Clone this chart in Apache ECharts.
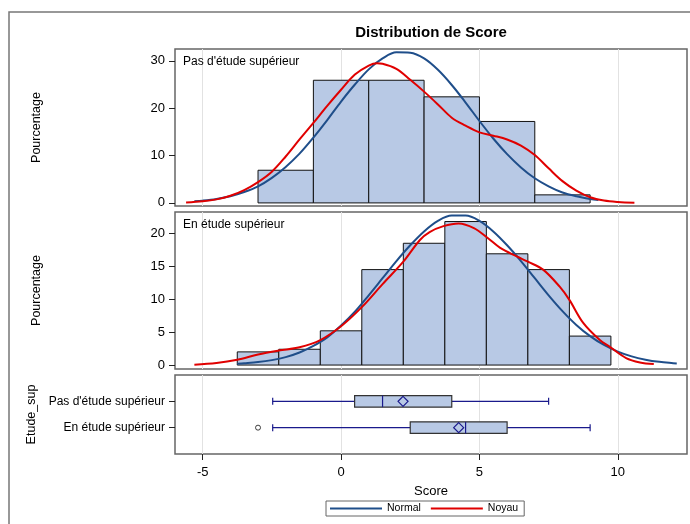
<!DOCTYPE html>
<html>
<head>
<meta charset="utf-8">
<script src="https://cdn.jsdelivr.net/npm/echarts@6/dist/echarts.min.js"></script>
<style>html,body{margin:0;padding:0;background:#fff}#c{width:690px;height:524px}</style>
</head>
<body>
<div id="c"></div>
<script>
// ---- data ----
const groups = ["Pas d'étude supérieur", "En étude supérieur"];
const xTicks = [-5, 0, 5, 10];
const pasTicks = [0, 10, 20, 30];
const enTicks = [0, 5, 10, 15, 20];

const pasBinCenters = [-2, 0, 2, 4, 6, 8];
const pasBinWidth = 2;
const pasPct = [6.9, 25.9, 25.9, 22.4, 17.2, 1.7];

const enBinCenters = [-3, -1.5, 0, 1.5, 3, 4.5, 6, 7.5, 9];
const enBinWidth = 1.5;
const enPct = [2.0, 2.4, 5.2, 14.5, 18.5, 21.8, 16.9, 14.5, 4.4];

const pasNormalX = [-5.3, -5, -4.5, -4, -3.5, -3, -2.5, -2, -1.5, -1, -0.5, 0, 0.5, 1, 1.5, 2, 2.5, 3, 3.5, 4, 4.5, 5, 5.5, 6, 6.5, 7, 7.5, 8, 8.5, 9, 9.3];
const pasNormalY = [0.34, 0.48, 0.85, 1.42, 2.3, 3.5, 5.3, 7.6, 10.4, 13.8, 17.5, 21.4, 25.0, 28.2, 30.5, 31.8, 31.7, 30.5, 28.1, 24.9, 21.2, 17.3, 13.6, 10.3, 7.5, 5.2, 3.5, 2.2, 1.4, 0.83, 0.59];

const pasKernelX = [-5.6, -5, -4.5, -4, -3.5, -3, -2.5, -2, -1.5, -1, -0.5, 0, 0.5, 1, 1.3, 1.5, 2, 2.5, 3, 3.5, 4, 4.5, 5, 5.5, 6, 6.5, 7, 7.5, 8, 8.5, 9, 9.5, 10, 10.6];
const pasKernelY = [0.1, 0.35, 0.75, 1.5, 2.7, 4.4, 6.6, 9.8, 13.4, 16.9, 20.5, 23.9, 27.1, 29.0, 29.5, 29.4, 28.3, 26.0, 23.5, 20.8, 18.0, 16.3, 14.9, 14.2, 13.4, 12.1, 10.1, 7.3, 4.6, 2.6, 1.2, 0.5, 0.2, 0.05];

const enNormalX = [-3.75, -3.5, -3, -2.5, -2, -1.5, -1, -0.5, 0, 0.5, 1, 1.5, 2, 2.5, 3, 3.5, 4, 4.5, 5, 5.5, 6, 6.5, 7, 7.5, 8, 8.5, 9, 9.5, 10, 10.5, 11, 11.5, 12, 12.13];
const enNormalY = [0.2, 0.27, 0.45, 0.75, 1.2, 1.9, 2.9, 4.2, 6.0, 8.1, 10.6, 13.2, 15.8, 18.2, 20.3, 21.9, 22.7, 22.7, 21.9, 20.3, 18.2, 15.8, 13.2, 10.6, 8.2, 6.1, 4.4, 3.05, 2.05, 1.32, 0.82, 0.49, 0.29, 0.25];

const enKernelX = [-5.3, -4.5, -3.75, -3, -2.25, -1.5, -0.75, 0, 0.75, 1.5, 2.25, 2.85, 3.2, 3.7, 4.25, 4.8, 5.3, 5.75, 6.35, 6.75, 7.3, 7.9, 8.25, 8.75, 9.35, 9.7, 10.3, 10.8, 11.3];
const enKernelY = [0.05, 0.3, 0.8, 1.6, 2.2, 2.7, 3.8, 5.9, 8.8, 12.3, 15.7, 19.0, 20.2, 21.1, 21.5, 20.8, 19.3, 17.8, 16.5, 15.7, 14.5, 11.9, 9.9, 6.4, 3.8, 2.8, 1.06, 0.4, 0.15];

const boxMin = [-2.47, -2.47];
const boxQ1 = [0.49, 2.5];
const boxMedian = [1.5, 4.5];
const boxQ3 = [4.0, 6.0];
const boxMax = [7.5, 9.0];
const boxMean = [2.24, 4.25];
const outlierValues = [-3.0];
const outlierGroups = [1];

// ---- styles ----
const FONT = 'Liberation Sans, Arial, sans-serif';
const BAR_FILL = '#b8c9e5';
const NORMAL_COLOR = '#1f4e8a';
const KERNEL_COLOR = '#e00000';
const BOX_LINE = '#1a1a8c';
const BORDER = '#666666';
const GRIDLINE = '#e2e2e2';

const pairs = (xs, ys) => xs.map((x, i) => [x, ys[i]]);

function histRender(width) {
  return function (params, api) {
    const c = api.value(0), v = api.value(1);
    const p0 = api.coord([c - width / 2, v]);
    const p1 = api.coord([c + width / 2, 0]);
    return {
      type: 'rect',
      shape: { x: p0[0], y: p0[1], width: p1[0] - p0[0], height: p1[1] - p0[1] },
      style: { fill: BAR_FILL, stroke: '#111', lineWidth: 1 }
    };
  };
}

function boxRender(params, api) {
  const g = api.value(0);
  const pMin = api.coord([api.value(1), g]);
  const pQ1 = api.coord([api.value(2), g]);
  const pMed = api.coord([api.value(3), g]);
  const pQ3 = api.coord([api.value(4), g]);
  const pMax = api.coord([api.value(5), g]);
  const pMean = api.coord([api.value(6), g]);
  const y = pMin[1], h = 5.8, cap = 3.5, d = 5;
  const ls = { stroke: BOX_LINE, lineWidth: 1.2 };
  return {
    type: 'group',
    children: [
      { type: 'line', shape: { x1: pMin[0], y1: y, x2: pQ1[0], y2: y }, style: ls },
      { type: 'line', shape: { x1: pQ3[0], y1: y, x2: pMax[0], y2: y }, style: ls },
      { type: 'line', shape: { x1: pMin[0], y1: y - cap, x2: pMin[0], y2: y + cap }, style: ls },
      { type: 'line', shape: { x1: pMax[0], y1: y - cap, x2: pMax[0], y2: y + cap }, style: ls },
      { type: 'rect', shape: { x: pQ1[0], y: y - h, width: pQ3[0] - pQ1[0], height: 2 * h }, style: { fill: BAR_FILL, stroke: '#333', lineWidth: 1.2 } },
      { type: 'line', shape: { x1: pMed[0], y1: y - h, x2: pMed[0], y2: y + h }, style: ls },
      { type: 'polygon', shape: { points: [[pMean[0], y - d], [pMean[0] + d, y], [pMean[0], y + d], [pMean[0] - d, y]] }, style: { fill: 'none', stroke: BOX_LINE, lineWidth: 1.2 } }
    ]
  };
}

function xAxis(i, showLabels) {
  return {
    type: 'value', gridIndex: i, min: -6, max: 12.5,
    axisLine: { show: false, onZero: false },
    axisTick: { show: showLabels, length: 6, customValues: xTicks, lineStyle: { color: '#222' } },
    axisLabel: { show: showLabels, customValues: xTicks, fontSize: 13, color: '#000', margin: 12, fontFamily: FONT },
    splitLine: { show: true, lineStyle: { color: GRIDLINE, width: 1 } },
    name: showLabels ? 'Score' : '', nameLocation: 'middle', nameGap: 31,
    nameTextStyle: { fontSize: 13, color: '#000', fontFamily: FONT }
  };
}
function yAxis(i, min, max, ticks, name, extra) {
  return Object.assign({
    type: 'value', gridIndex: i, min: min, max: max,
    axisLine: { show: false, onZero: false },
    axisTick: { show: true, length: 6, customValues: ticks, lineStyle: { color: '#222' } },
    axisLabel: { customValues: ticks, fontSize: 13, color: '#000', margin: 10, fontFamily: FONT },
    splitLine: { show: false },
    name: name, nameLocation: 'middle', nameGap: 132,
    nameTextStyle: { fontSize: 12.5, color: '#000', fontFamily: FONT }
  }, extra || {});
}

const gridBase = { left: 175, right: 3, show: true, borderColor: BORDER, borderWidth: 1.5, backgroundColor: '#fff' };

const lineCommon = { smooth: 0.35, showSymbol: false, z: 3 };

const option = {
  animation: false,
  textStyle: { fontFamily: FONT },
  grid: [
    Object.assign({ top: 49, height: 157 }, gridBase),
    Object.assign({ top: 212, height: 157 }, gridBase),
    Object.assign({ top: 375, height: 79 }, gridBase)
  ],
  xAxis: [xAxis(0, false), xAxis(1, false), xAxis(2, true)],
  yAxis: [
    yAxis(0, -0.65, 32.5, pasTicks, 'Pourcentage'),
    yAxis(1, -0.6, 23.25, enTicks, 'Pourcentage'),
    yAxis(2, -1, 2, [0, 1], 'Etude_sup', {
      inverse: true,
      axisLabel: { customValues: [0, 1], fontSize: 12, color: '#000', margin: 10, fontFamily: FONT, formatter: v => groups[v] }
    })
  ],
  legend: {
    data: ['Normal', 'Noyau'], left: 326, top: 501, icon: 'rect', itemWidth: 52, itemHeight: 2, itemGap: 10,
    borderColor: BORDER, borderWidth: 1, padding: [2, 6, 2, 4], borderRadius: 0,
    textStyle: { fontSize: 10.5, color: '#000', fontFamily: FONT }
  },
  graphic: [
    { type: 'rect', shape: { x: 9, y: 12, width: 700, height: 600 }, style: { fill: 'none', stroke: '#777', lineWidth: 1.5 }, silent: true, z: -10 },
    { type: 'text', x: 431, y: 33, style: { text: 'Distribution de Score', textAlign: 'center', textVerticalAlign: 'middle', font: 'bold 15px ' + FONT, fill: '#000' }, z: 100 },
    { type: 'text', x: 183, y: 62, style: { text: groups[0], textVerticalAlign: 'middle', font: '12px ' + FONT, fill: '#000' }, z: 100 },
    { type: 'text', x: 183, y: 225, style: { text: groups[1], textVerticalAlign: 'middle', font: '12px ' + FONT, fill: '#000' }, z: 100 }
  ],
  series: [
    { type: 'custom', xAxisIndex: 0, yAxisIndex: 0, renderItem: histRender(pasBinWidth), encode: { x: 0, y: 1 }, data: pairs(pasBinCenters, pasPct), z: 2 },
    Object.assign({ type: 'line', name: 'Normal', xAxisIndex: 0, yAxisIndex: 0, data: pairs(pasNormalX, pasNormalY), lineStyle: { color: NORMAL_COLOR, width: 2 }, itemStyle: { color: NORMAL_COLOR } }, lineCommon),
    Object.assign({ type: 'line', name: 'Noyau', xAxisIndex: 0, yAxisIndex: 0, data: pairs(pasKernelX, pasKernelY), lineStyle: { color: KERNEL_COLOR, width: 2 }, itemStyle: { color: KERNEL_COLOR } }, lineCommon, { z: 4 }),
    { type: 'custom', xAxisIndex: 1, yAxisIndex: 1, renderItem: histRender(enBinWidth), encode: { x: 0, y: 1 }, data: pairs(enBinCenters, enPct), z: 2 },
    Object.assign({ type: 'line', name: 'Normal', xAxisIndex: 1, yAxisIndex: 1, data: pairs(enNormalX, enNormalY), lineStyle: { color: NORMAL_COLOR, width: 2 }, itemStyle: { color: NORMAL_COLOR } }, lineCommon),
    Object.assign({ type: 'line', name: 'Noyau', xAxisIndex: 1, yAxisIndex: 1, data: pairs(enKernelX, enKernelY), lineStyle: { color: KERNEL_COLOR, width: 2 }, itemStyle: { color: KERNEL_COLOR } }, lineCommon, { z: 4 }),
    { type: 'custom', xAxisIndex: 2, yAxisIndex: 2, renderItem: boxRender, encode: { x: [1, 2, 3, 4, 5, 6], y: 0 },
      data: groups.map((g, i) => [i, boxMin[i], boxQ1[i], boxMedian[i], boxQ3[i], boxMax[i], boxMean[i]]), z: 2 },
    { type: 'scatter', xAxisIndex: 2, yAxisIndex: 2, data: outlierValues.map((v, i) => [v, outlierGroups[i]]), symbol: 'circle', symbolSize: 5,
      itemStyle: { color: '#fff', borderColor: '#111', borderWidth: 1 }, z: 3 }
  ]
};

const chart = echarts.init(document.getElementById('c'), null, { renderer: 'canvas' });
chart.setOption(option);
</script>
</body>
</html>
